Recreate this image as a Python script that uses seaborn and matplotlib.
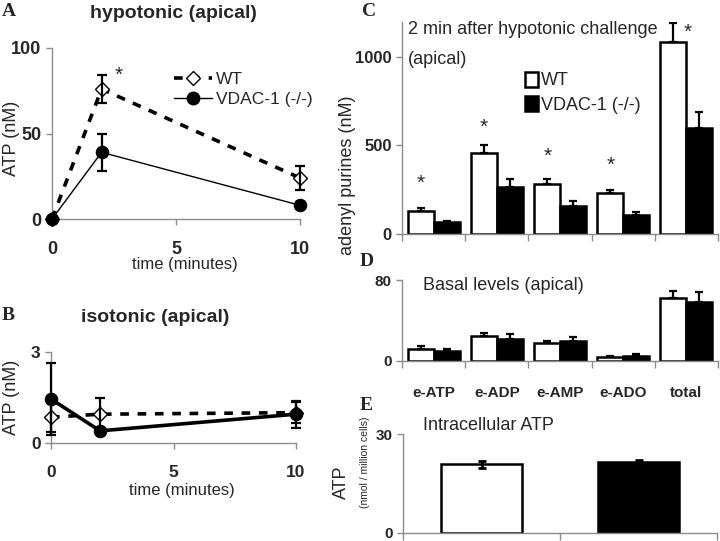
import pandas as pd
import seaborn as sns
import matplotlib.pyplot as plt
from matplotlib.patches import Patch
from matplotlib.lines import Line2D

# ---- data ----
times = [0, 2, 10]
genotypes = ['WT', 'VDAC-1 (-/-)']

# A: hypotonic (apical), ATP nM
hypo_wt = [0, 76, 24]
hypo_wt_err = [0, 8, 7]
hypo_ko = [0, 39, 8]
hypo_ko_err = [0, 11, 2]

# B: isotonic (apical), ATP nM
iso_wt = [0.85, 0.95, 1.0]
iso_wt_err = [0.5, 0.55, 0.35]
iso_ko = [1.45, 0.4, 0.95]
iso_ko_err = [1.2, 0.0, 0.45]

# C / D: adenyl purines (nM)
purines = ['e-ATP', 'e-ADP', 'e-AMP', 'e-ADO', 'total']
hypo2_wt = [130, 457, 282, 230, 1083]
hypo2_wt_err = [15, 45, 28, 20, 110]
hypo2_ko = [65, 267, 158, 107, 600]
hypo2_ko_err = [10, 45, 30, 20, 90]

basal_wt = [12, 25, 18, 4, 62]
basal_wt_err = [3, 3, 2, 1, 7]
basal_ko = [10, 22, 20, 5, 58]
basal_ko_err = [2, 5, 4, 2, 10]

# E: intracellular ATP (nmol / million cells)
intra_atp = [20.8, 21.6]
intra_atp_err = [1.0, 0.5]

# significance marks (data coords)
star_a = (2.7, 84)
star_c_x = [-0.2, 0.8, 1.8, 2.8, 4.02]
star_c_y = [288, 604, 440, 390, 1140]

sns.set_style('ticks')
plt.rcParams['font.family'] = ['Liberation Sans', 'DejaVu Sans']

GRAY = '#8c8c8c'
pal = {'WT': 'white', 'VDAC-1 (-/-)': 'black'}

fig = plt.figure(figsize=(7.2, 5.41), dpi=100)


def px_axes(l, t, r, b):
    return [l / 720, 1 - b / 541, (r - l) / 720, (b - t) / 541]


def px(x, y):
    return x / 720, 1 - y / 541


def style_axes(ax, size):
    sns.despine(ax=ax)
    for s in ['left', 'bottom']:
        ax.spines[s].set_color(GRAY)
        ax.spines[s].set_linewidth(1.0)
    ax.tick_params(axis='both', which='both', direction='out', color=GRAY,
                   width=1.0, length=4, labelsize=size)
    for lab in ax.get_xticklabels() + ax.get_yticklabels():
        lab.set_fontweight('bold')
    ax.set_xlabel('')
    ax.set_ylabel('')


def line_panel(ax, wt, wt_err, ko, ko_err, lw_wt, lw_ko):
    sns.lineplot(x=times, y=wt, ax=ax, color='black', lw=lw_wt,
                 linestyle=(0, (2.4, 2.4)), marker='D', markersize=7.5,
                 markerfacecolor='white', markeredgecolor='black',
                 markeredgewidth=1.0, clip_on=False, zorder=3)
    ax.errorbar(times, wt, yerr=wt_err, fmt='none', ecolor='black',
                elinewidth=1.6, capsize=3.5, capthick=1.6, zorder=4, clip_on=False)
    sns.lineplot(x=times, y=ko, ax=ax, color='black', lw=lw_ko,
                 marker='o', markersize=9, markerfacecolor='black',
                 markeredgecolor='black', clip_on=False, zorder=5)
    ax.errorbar(times, ko, yerr=ko_err, fmt='none', ecolor='black',
                elinewidth=1.6, capsize=3.5, capthick=1.6, zorder=6, clip_on=False)
    ax.set_xlim(0, 10)
    ax.set_xticks([0, 5, 10])


def bar_errors(ax, errs_by_hue):
    for cont, errs in zip(ax.containers, errs_by_hue):
        xs = [p.get_x() + p.get_width() / 2 for p in cont.patches]
        ys = [p.get_height() for p in cont.patches]
        ax.errorbar(xs, ys, yerr=[[0] * len(errs), errs], fmt='none',
                    ecolor='black', elinewidth=1.6, capsize=3, capthick=1.6,
                    zorder=5)


def cat_axis(ax, n, labels, size):
    ax.set_xlim(-0.5, n - 0.5)
    ax.set_xticks(range(n))
    ax.set_xticklabels(labels if labels else [''] * n)
    ax.set_xticks([i - 0.5 for i in range(n + 1)], minor=True)
    ax.tick_params(axis='x', which='major', length=0, pad=18)
    ax.tick_params(axis='x', which='minor', length=5, color=GRAY)
    for lab in ax.get_xticklabels():
        lab.set_fontweight('bold')
        lab.set_fontsize(size)


# ---------- A ----------
axA = fig.add_axes(px_axes(52, 48, 300, 219))
line_panel(axA, hypo_wt, hypo_wt_err, hypo_ko, hypo_ko_err, 2.6, 1.0)
axA.set_ylim(0, 100)
axA.set_yticks([0, 50, 100])
style_axes(axA, 13)
axA.tick_params(axis='x', pad=12)
axA.text(*star_a, '*', fontsize=15, ha='center', va='center')
handles = [
    Line2D([], [], color='black', lw=2.6, linestyle=(0, (2.4, 2.4)), marker='D',
           markersize=7, markerfacecolor='white', markeredgecolor='black',
           markeredgewidth=1.0),
    Line2D([], [], color='black', lw=1.0, marker='o', markersize=9,
           markerfacecolor='black'),
]
axA.legend(handles, genotypes, loc='upper left', bbox_to_anchor=(0.49, 0.86),
           frameon=False, fontsize=12.5, handlelength=2.2, handletextpad=0.25,
           labelspacing=0.25, borderaxespad=0, borderpad=0)

# ---------- B ----------
axB = fig.add_axes(px_axes(51, 352, 296, 443))
line_panel(axB, iso_wt, iso_wt_err, iso_ko, iso_ko_err, 2.6, 2.6)
axB.set_ylim(0, 3)
axB.set_yticks([0, 3])
style_axes(axB, 12.5)
axB.tick_params(axis='x', pad=12)

# ---------- C ----------
dfC = pd.DataFrame({'purine': purines * 2,
                    'nM': hypo2_wt + hypo2_ko,
                    'genotype': [genotypes[0]] * 5 + [genotypes[1]] * 5})
axC = fig.add_axes(px_axes(402, 21.6, 718, 234))
sns.barplot(data=dfC, x='purine', y='nM', hue='genotype', palette=pal,
            edgecolor='black', linewidth=1.8, errorbar=None, width=0.82,
            legend=False, ax=axC)
bar_errors(axC, [hypo2_wt_err, hypo2_ko_err])
axC.set_ylim(0, 1200)
axC.set_yticks([0, 500, 1000])
style_axes(axC, 12)
cat_axis(axC, 5, None, 11)
for x, y in zip(star_c_x, star_c_y):
    axC.text(x, y, '*', fontsize=15, ha='center', va='center')
sq = [Patch(facecolor=pal[g], edgecolor='black', linewidth=1.8) for g in genotypes]
axC.legend(sq, genotypes, loc='upper left', bbox_to_anchor=(0.39, 0.765),
           frameon=False, fontsize=13, handlelength=0.7, handleheight=0.9,
           handletextpad=0.15, labelspacing=0.4, borderaxespad=0, borderpad=0)

# ---------- D ----------
dfD = pd.DataFrame({'purine': purines * 2,
                    'nM': basal_wt + basal_ko,
                    'genotype': [genotypes[0]] * 5 + [genotypes[1]] * 5})
axD = fig.add_axes(px_axes(402, 280, 718, 361))
sns.barplot(data=dfD, x='purine', y='nM', hue='genotype', palette=pal,
            edgecolor='black', linewidth=1.8, errorbar=None, width=0.82,
            legend=False, ax=axD)
bar_errors(axD, [basal_wt_err, basal_ko_err])
axD.set_ylim(0, 80)
axD.set_yticks([0, 80])
style_axes(axD, 11)
cat_axis(axD, 5, purines, 11)

# ---------- E ----------
dfE = pd.DataFrame({'genotype': genotypes, 'atp': intra_atp})
axE = fig.add_axes(px_axes(403, 434, 717, 533))
sns.barplot(data=dfE, x='genotype', y='atp', hue='genotype', palette=pal,
            edgecolor='black', linewidth=1.8, errorbar=None, width=0.51,
            legend=False, ax=axE)
xsE = [p.get_x() + p.get_width() / 2 for c in axE.containers for p in c.patches]
axE.errorbar(xsE, intra_atp, yerr=intra_atp_err, fmt='none', ecolor='black',
             elinewidth=2.0, capsize=3, capthick=2.0, zorder=5)
axE.set_ylim(0, 30)
axE.set_yticks([0, 30])
style_axes(axE, 11)
cat_axis(axE, 2, None, 11)

# ---------- free text ----------
serif = ['Liberation Serif', 'DejaVu Serif']
for letter, (x, y) in zip('ABCDE', [(9, 12), (8, 316), (369, 11), (367, 261), (366, 406)]):
    fig.text(*px(x, y), letter, family=serif, fontweight='bold', fontsize=14,
             ha='center', va='center')

fig.text(*px(173, 13), 'hypotonic (apical)', fontsize=14, fontweight='bold',
         ha='center', va='center')
fig.text(*px(155, 318), 'isotonic (apical)', fontsize=14, fontweight='bold',
         ha='center', va='center')
fig.text(*px(12, 138), 'ATP (nM)', fontsize=13, rotation=90, ha='center', va='center')
fig.text(*px(12, 397), 'ATP (nM)', fontsize=13, rotation=90, ha='center', va='center')
fig.text(*px(185, 265), 'time (minutes)', fontsize=12, ha='center', va='center')
fig.text(*px(182, 490), 'time (minutes)', fontsize=12, ha='center', va='center')

fig.text(*px(408, 30), '2 min after hypotonic challenge', fontsize=13,
         ha='left', va='center')
fig.text(*px(408, 60), '(apical)', fontsize=13, ha='left', va='center')
fig.text(*px(347, 175), 'adenyl purines (nM)', fontsize=13, rotation=90,
         ha='center', va='center')
fig.text(*px(423, 285), 'Basal levels (apical)', fontsize=13, ha='left', va='center')
fig.text(*px(423, 425), 'Intracellular ATP', fontsize=13, ha='left', va='center')
fig.text(*px(341, 482), 'ATP', fontsize=13, rotation=90, ha='center', va='center')
fig.text(*px(365, 462), '(nmol / million cells)', fontsize=7.5, rotation=90,
         ha='center', va='center')

fig.savefig('out.png', dpi=100)
